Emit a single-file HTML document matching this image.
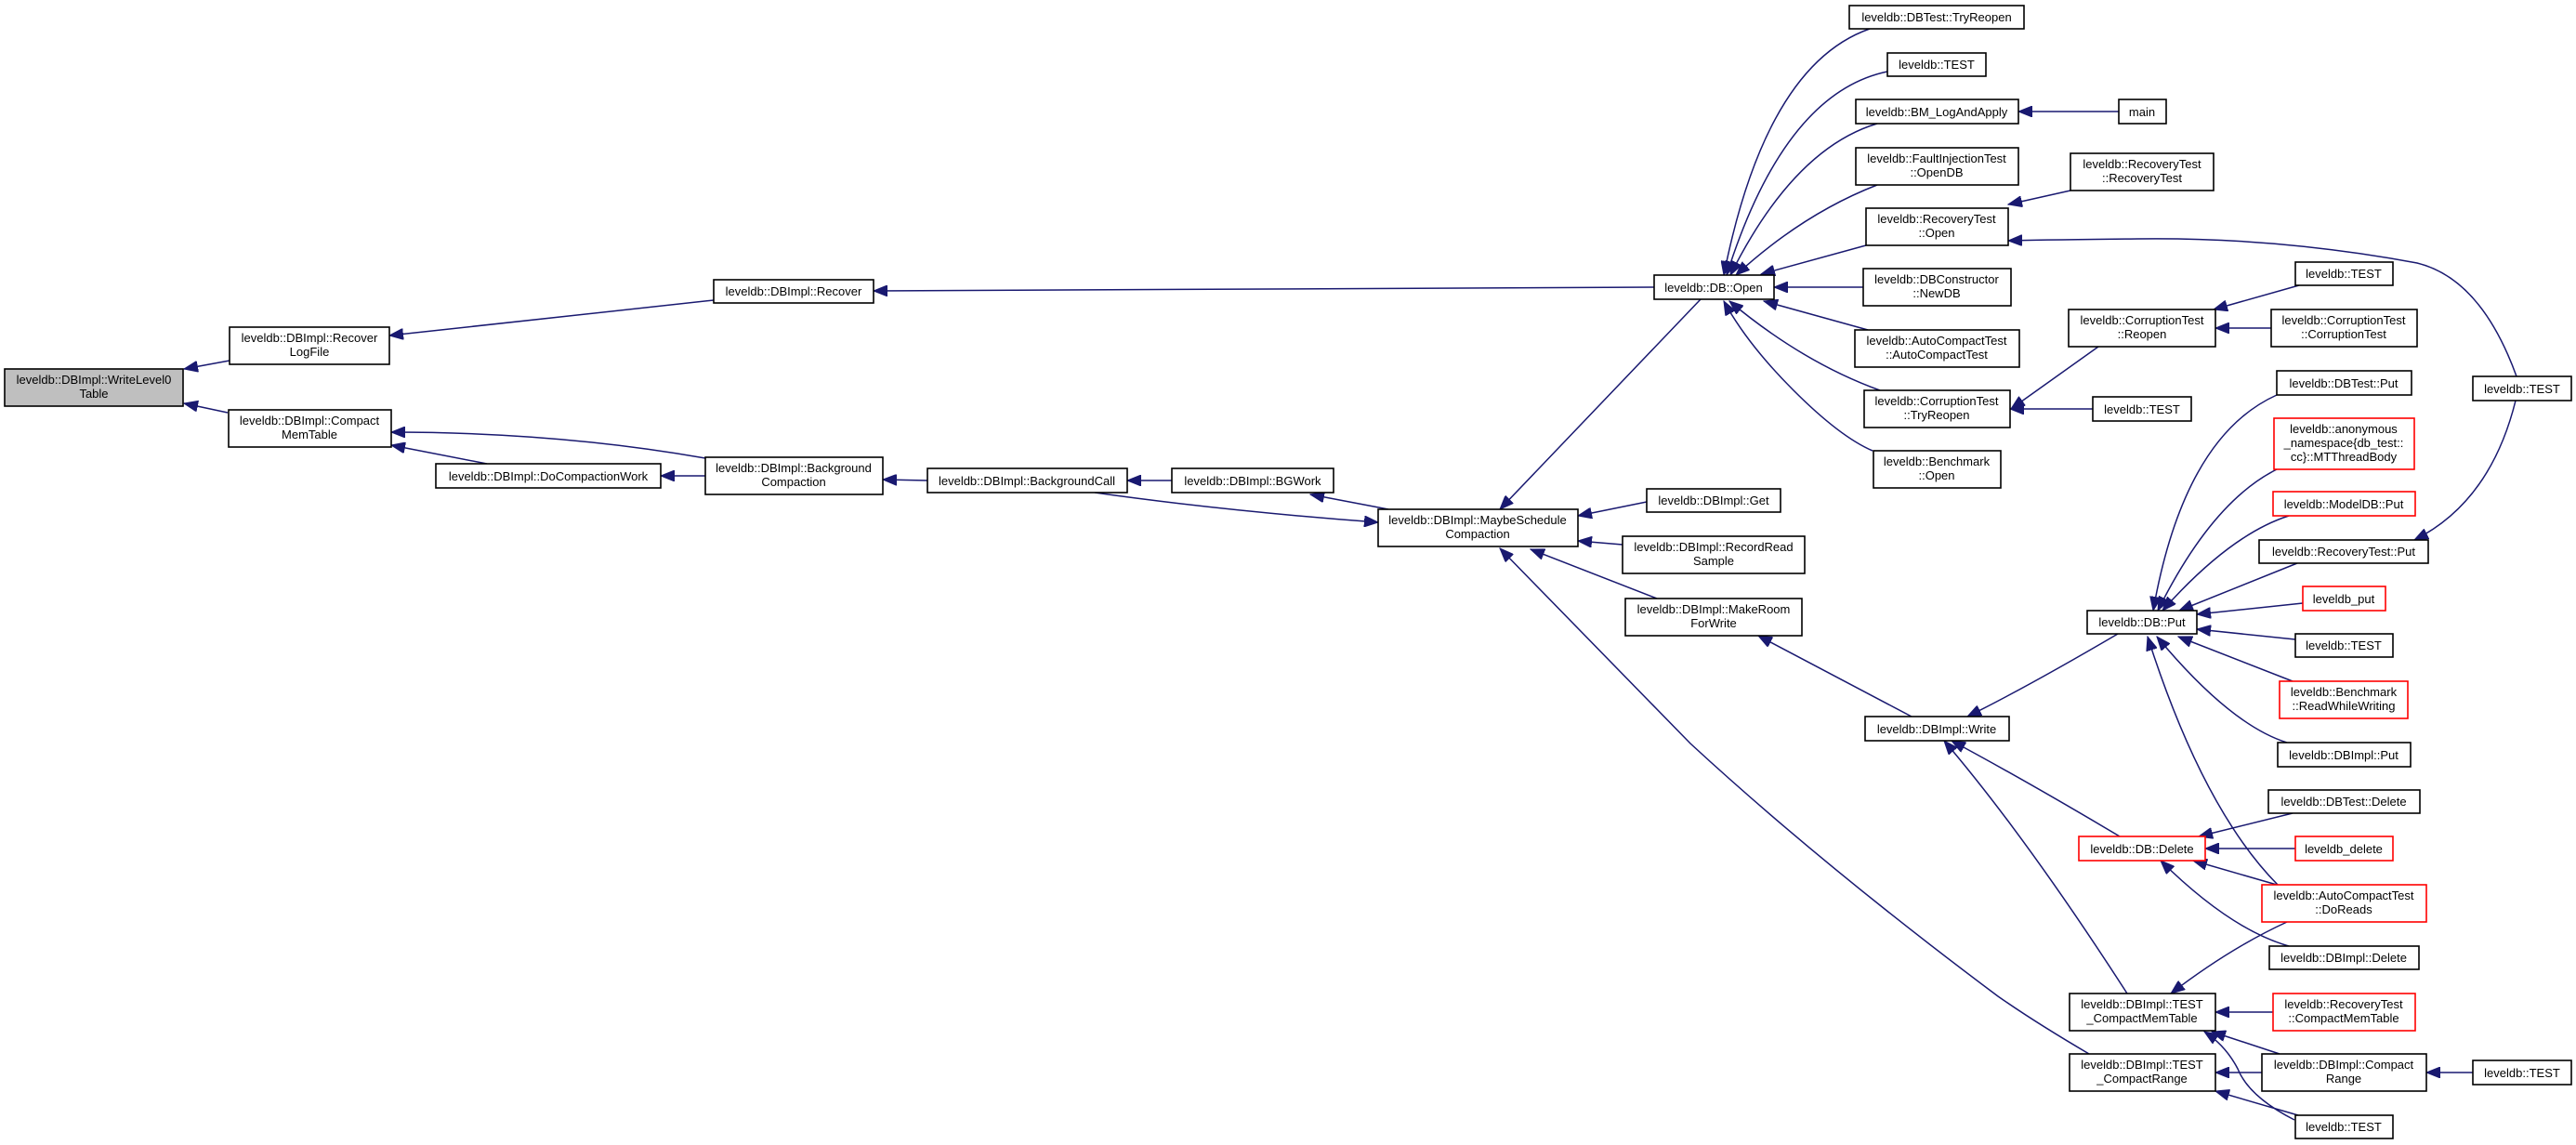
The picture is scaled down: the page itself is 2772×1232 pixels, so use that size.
<!DOCTYPE html>
<html><head><meta charset="utf-8"><style>
html,body{margin:0;padding:0;background:#fff}
svg{display:block}
text{font-family:"Liberation Sans",sans-serif;font-size:13px;fill:#000;text-anchor:middle}
.n{fill:#fff;stroke:#000;stroke-width:1.6}
.r{fill:#fff;stroke:#f00;stroke-width:1.6}
.g{fill:#bfbfbf;stroke:#000;stroke-width:1.6}
path{fill:none;stroke:#191970;stroke-width:1.5}
</style></head><body>
<svg width="2772" height="1232" viewBox="0 0 2772 1232" xmlns="http://www.w3.org/2000/svg">
<defs><marker id="a" markerUnits="userSpaceOnUse" markerWidth="16" markerHeight="12" refX="15" refY="6" orient="auto"><path d="M0,0 L15,6 L0,12 Z" style="fill:#191970;stroke:#191970;stroke-width:1"/></marker></defs>
<g marker-end="url(#a)">
<path d="M247,388 L198,397"/>
<path d="M245,444 L198,434"/>
<path d="M768,323 L419,361"/>
<path d="M759,493 Q600,465 421,465"/>
<path d="M524,499 L421,479"/>
<path d="M759,512 L711,512"/>
<path d="M1780,309 L940,313"/>
<path d="M998,517 L950,516"/>
<path d="M1261,517 L1213,517"/>
<path d="M1494,548 L1410,532"/>
<path d="M1178,530 Q1320,550 1483,562"/>
<path d="M1830,322 L1614,548"/>
<path d="M1772,540 L1698,555"/>
<path d="M1746,586 L1698,582"/>
<path d="M1783,644 L1647,591"/>
<path d="M2248,1134 Q2190,1100 2150,1072 Q1960,930 1819,800 L1614,590"/>
<path d="M2057,771 L1892,684"/>
<path d="M2279,682 Q2180,740 2117,771"/>
<path d="M2281,900 Q2180,840 2100,797"/>
<path d="M2289,1069 Q2180,900 2092,797"/>
<path d="M2012,31 Q1900,70 1855,296"/>
<path d="M2031,77 Q1920,100 1858,296"/>
<path d="M2020,133 Q1930,160 1862,296"/>
<path d="M2020,199 Q1940,230 1868,296"/>
<path d="M2008,264 L1895,295"/>
<path d="M2005,309 L1909,309"/>
<path d="M2010,355 L1898,324"/>
<path d="M2023,420 Q1940,390 1861,324"/>
<path d="M2015,485 Q1980,470 1930,420 Q1880,370 1855,324"/>
<path d="M2280,120 L2172,120"/>
<path d="M2228,205 L2161,220"/>
<path d="M2708,405 Q2670,300 2601,283 Q2450,255 2300,257 Q2200,258 2161,259"/>
<path d="M2707,431 Q2680,540 2598,581"/>
<path d="M2258,373 L2164,440"/>
<path d="M2474,307 L2382,333"/>
<path d="M2444,353 L2384,353"/>
<path d="M2252,440 L2163,440"/>
<path d="M2450,425 Q2350,470 2317,657"/>
<path d="M2450,505 Q2380,540 2322,657"/>
<path d="M2463,555 Q2400,575 2327,657"/>
<path d="M2472,606 L2345,657"/>
<path d="M2478,649 L2364,661"/>
<path d="M2470,688 L2364,677"/>
<path d="M2467,733 L2344,685"/>
<path d="M2461,799 Q2400,780 2321,685"/>
<path d="M2451,952 Q2370,870 2311,685"/>
<path d="M2467,875 L2366,900"/>
<path d="M2470,913 L2373,913"/>
<path d="M2450,952 L2360,926"/>
<path d="M2463,1018 Q2400,1000 2325,926"/>
<path d="M2461,992 Q2400,1020 2336,1069"/>
<path d="M2446,1089 L2384,1089"/>
<path d="M2453,1134 L2380,1110"/>
<path d="M2469,1205 Q2420,1180 2408,1150 Q2395,1125 2372,1110"/>
<path d="M2434,1154 L2384,1154"/>
<path d="M2473,1200 L2384,1174"/>
<path d="M2661,1154 L2611,1154"/>
</g>

<rect class="g" x="5" y="397" width="192" height="40"/><text x="101" y="413">leveldb::DBImpl::WriteLevel0</text><text x="101" y="428">Table</text>
<rect class="n" x="247" y="352" width="172" height="40"/><text x="333" y="368">leveldb::DBImpl::Recover</text><text x="333" y="383">LogFile</text>
<rect class="n" x="246" y="441" width="175" height="40"/><text x="333" y="457">leveldb::DBImpl::Compact</text><text x="333" y="472">MemTable</text>
<rect class="n" x="469" y="499" width="242" height="26"/><text x="590" y="517">leveldb::DBImpl::DoCompactionWork</text>
<rect class="n" x="768" y="301" width="172" height="25"/><text x="854" y="318">leveldb::DBImpl::Recover</text>
<rect class="n" x="759" y="492" width="191" height="40"/><text x="854" y="508">leveldb::DBImpl::Background</text><text x="854" y="523">Compaction</text>
<rect class="n" x="998" y="504" width="215" height="26"/><text x="1105" y="522">leveldb::DBImpl::BackgroundCall</text>
<rect class="n" x="1261" y="504" width="174" height="26"/><text x="1348" y="522">leveldb::DBImpl::BGWork</text>
<rect class="n" x="1483" y="548" width="215" height="40"/><text x="1590" y="564">leveldb::DBImpl::MaybeSchedule</text><text x="1590" y="579">Compaction</text>
<rect class="n" x="1772" y="526" width="144" height="25"/><text x="1844" y="543">leveldb::DBImpl::Get</text>
<rect class="n" x="1746" y="577" width="196" height="40"/><text x="1844" y="593">leveldb::DBImpl::RecordRead</text><text x="1844" y="608">Sample</text>
<rect class="n" x="1749" y="644" width="190" height="40"/><text x="1844" y="660">leveldb::DBImpl::MakeRoom</text><text x="1844" y="675">ForWrite</text>
<rect class="n" x="2007" y="771" width="155" height="26"/><text x="2084" y="789">leveldb::DBImpl::Write</text>
<rect class="n" x="1780" y="296" width="129" height="26"/><text x="1844" y="314">leveldb::DB::Open</text>
<rect class="n" x="1990" y="6" width="188" height="25"/><text x="2084" y="23">leveldb::DBTest::TryReopen</text>
<rect class="n" x="2031" y="57" width="106" height="25"/><text x="2084" y="74">leveldb::TEST</text>
<rect class="n" x="1997" y="107" width="175" height="26"/><text x="2084" y="125">leveldb::BM_LogAndApply</text>
<rect class="n" x="1997" y="159" width="175" height="40"/><text x="2084" y="175">leveldb::FaultInjectionTest</text><text x="2084" y="190">::OpenDB</text>
<rect class="n" x="2008" y="224" width="153" height="40"/><text x="2084" y="240">leveldb::RecoveryTest</text><text x="2084" y="255">::Open</text>
<rect class="n" x="2005" y="289" width="159" height="40"/><text x="2084" y="305">leveldb::DBConstructor</text><text x="2084" y="320">::NewDB</text>
<rect class="n" x="1996" y="355" width="177" height="40"/><text x="2084" y="371">leveldb::AutoCompactTest</text><text x="2084" y="386">::AutoCompactTest</text>
<rect class="n" x="2006" y="420" width="157" height="40"/><text x="2084" y="436">leveldb::CorruptionTest</text><text x="2084" y="451">::TryReopen</text>
<rect class="n" x="2016" y="485" width="137" height="40"/><text x="2084" y="501">leveldb::Benchmark</text><text x="2084" y="516">::Open</text>
<rect class="n" x="2280" y="107" width="51" height="26"/><text x="2305" y="125">main</text>
<rect class="n" x="2228" y="165" width="154" height="40"/><text x="2305" y="181">leveldb::RecoveryTest</text><text x="2305" y="196">::RecoveryTest</text>
<rect class="n" x="2470" y="282" width="105" height="25"/><text x="2522" y="299">leveldb::TEST</text>
<rect class="n" x="2226" y="333" width="158" height="40"/><text x="2305" y="349">leveldb::CorruptionTest</text><text x="2305" y="364">::Reopen</text>
<rect class="n" x="2444" y="333" width="157" height="40"/><text x="2522" y="349">leveldb::CorruptionTest</text><text x="2522" y="364">::CorruptionTest</text>
<rect class="n" x="2450" y="399" width="145" height="26"/><text x="2522" y="417">leveldb::DBTest::Put</text>
<rect class="n" x="2661" y="405" width="106" height="26"/><text x="2714" y="423">leveldb::TEST</text>
<rect class="n" x="2252" y="427" width="106" height="26"/><text x="2305" y="445">leveldb::TEST</text>
<rect class="r" x="2447" y="450" width="151" height="55"/><text x="2522" y="466">leveldb::anonymous</text><text x="2522" y="481">_namespace{db_test::</text><text x="2522" y="496">cc}::MTThreadBody</text>
<rect class="r" x="2446" y="529" width="153" height="26"/><text x="2522" y="547">leveldb::ModelDB::Put</text>
<rect class="n" x="2431" y="581" width="182" height="25"/><text x="2522" y="598">leveldb::RecoveryTest::Put</text>
<rect class="r" x="2478" y="631" width="89" height="26"/><text x="2522" y="649">leveldb_put</text>
<rect class="n" x="2470" y="682" width="105" height="25"/><text x="2522" y="699">leveldb::TEST</text>
<rect class="r" x="2453" y="733" width="138" height="40"/><text x="2522" y="749">leveldb::Benchmark</text><text x="2522" y="764">::ReadWhileWriting</text>
<rect class="n" x="2451" y="799" width="143" height="26"/><text x="2522" y="817">leveldb::DBImpl::Put</text>
<rect class="n" x="2246" y="657" width="118" height="25"/><text x="2305" y="674">leveldb::DB::Put</text>
<rect class="n" x="2441" y="850" width="163" height="25"/><text x="2522" y="867">leveldb::DBTest::Delete</text>
<rect class="r" x="2237" y="900" width="136" height="26"/><text x="2305" y="918">leveldb::DB::Delete</text>
<rect class="r" x="2470" y="900" width="105" height="26"/><text x="2522" y="918">leveldb_delete</text>
<rect class="r" x="2434" y="952" width="177" height="40"/><text x="2522" y="968">leveldb::AutoCompactTest</text><text x="2522" y="983">::DoReads</text>
<rect class="n" x="2442" y="1018" width="161" height="25"/><text x="2522" y="1035">leveldb::DBImpl::Delete</text>
<rect class="n" x="2227" y="1069" width="157" height="40"/><text x="2305" y="1085">leveldb::DBImpl::TEST</text><text x="2305" y="1100">_CompactMemTable</text>
<rect class="r" x="2446" y="1069" width="153" height="40"/><text x="2522" y="1085">leveldb::RecoveryTest</text><text x="2522" y="1100">::CompactMemTable</text>
<rect class="n" x="2227" y="1134" width="157" height="40"/><text x="2305" y="1150">leveldb::DBImpl::TEST</text><text x="2305" y="1165">_CompactRange</text>
<rect class="n" x="2434" y="1134" width="177" height="40"/><text x="2522" y="1150">leveldb::DBImpl::Compact</text><text x="2522" y="1165">Range</text>
<rect class="n" x="2661" y="1141" width="106" height="26"/><text x="2714" y="1159">leveldb::TEST</text>
<rect class="n" x="2470" y="1200" width="105" height="25"/><text x="2522" y="1217">leveldb::TEST</text>
</svg>
</body></html>
